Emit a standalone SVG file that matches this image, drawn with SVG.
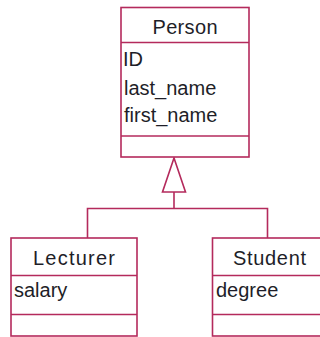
<svg xmlns="http://www.w3.org/2000/svg" width="320" height="337" viewBox="0 0 320 337">
<style>
.box{fill:#fff;stroke:#b42a5c;stroke-width:1.6}
.ln{fill:none;stroke:#b42a5c;stroke-width:1.6}
.t{font-family:"Liberation Sans",Arial,sans-serif;font-size:20px;fill:#1e1e28}
.c{text-anchor:middle}
</style>
<rect width="320" height="337" fill="#fff"/>
<g id="connectors">
<polygon class="box" points="174,158 162.5,192 185.5,192"/>
<polyline class="ln" points="174,192 174,208.5"/>
<polyline class="ln" points="87.5,238 87.5,208.5 267.5,208.5 267.5,238"/>
</g>
<g id="person">
<rect class="box" x="121" y="7.5" width="128" height="149.5"/>
<line class="ln" x1="121" y1="42.5" x2="249" y2="42.5"/>
<line class="ln" x1="121" y1="136" x2="249" y2="136"/>
<text class="t c" x="185" y="34" textLength="65">Person</text>
<text class="t" x="123" y="66">ID</text>
<text class="t" x="124" y="95">last_name</text>
<text class="t" x="124" y="122">first_name</text>
</g>
<g id="lecturer">
<rect class="box" x="11" y="238" width="126" height="98"/>
<line class="ln" x1="11" y1="275.5" x2="137" y2="275.5"/>
<line class="ln" x1="11" y1="314.5" x2="137" y2="314.5"/>
<text class="t c" x="74" y="265" textLength="82">Lecturer</text>
<text class="t" x="14" y="297">salary</text>
</g>
<g id="student">
<rect class="box" x="212.5" y="238" width="126" height="98"/>
<line class="ln" x1="212.5" y1="275.5" x2="338.5" y2="275.5"/>
<line class="ln" x1="212.5" y1="314.5" x2="338.5" y2="314.5"/>
<text class="t c" x="269.5" y="265" textLength="73">Student</text>
<text class="t" x="216" y="297">degree</text>
</g>
</svg>
